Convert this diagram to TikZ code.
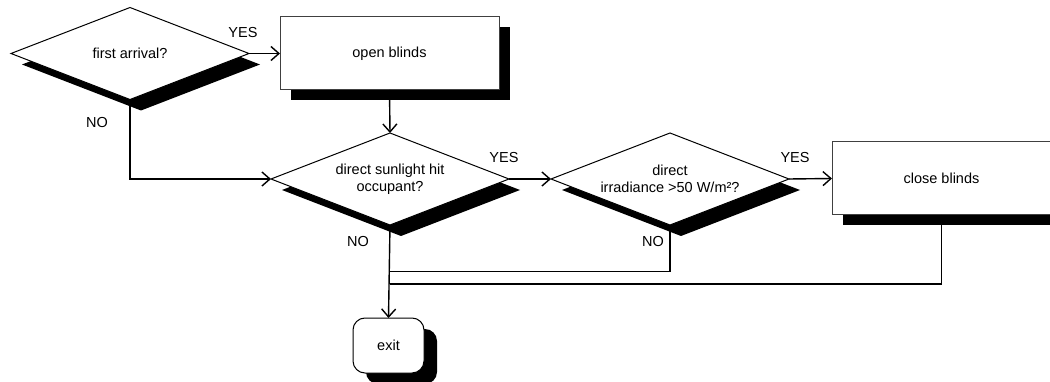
\documentclass[tikz,border=0pt]{standalone}
\usepackage{fontspec}
\setmainfont{Liberation Sans}
\usetikzlibrary{shapes.geometric,shadows,arrows.meta}

\tikzset{
  every node/.style={font=\fontsize{14.5}{17}\selectfont, inner sep=0pt, outer sep=0pt},
  blackshadow/.style={drop shadow={shadow xshift=11pt, shadow yshift=-11pt, fill=black, opacity=1}},
  decision/.style={diamond, draw=black, line width=1pt, fill=white, align=center,
    minimum width=238pt, minimum height=92pt, shape aspect=2.59, blackshadow},
  action/.style={rectangle, draw=black!75, line width=1pt, fill=white,
    minimum width=219pt, minimum height=73pt,
    drop shadow={shadow xshift=11pt, shadow yshift=-10pt, fill=black, opacity=1}},
  terminal/.style={rectangle, rounded corners=12pt, draw=black, line width=1pt, fill=white,
    minimum width=71pt, minimum height=55pt,
    drop shadow={shadow xshift=13pt, shadow yshift=-11pt, fill=black, opacity=1}},
  flow/.style={line width=1.4pt, draw=black},
  flowarrow/.style={flow, -{Straight Barb[length=8pt, width=14pt, line width=1.4pt]}},
  answer/.style={font=\fontsize{14.5}{17}\selectfont}
}

\begin{document}
\begin{tikzpicture}[x=1pt, y=-1pt]
  \useasboundingbox[fill=white] (0,0) rectangle (1050,382);

  % decisions and actions
  \node[decision] (arrival) at (130,53.5) {first arrival?};
  \node[action]   (open)    at (389.5,53.5) {open blinds};
  \node[decision] (sun)     at (390,179) {direct sunlight hit\\occupant?};
  \node[decision] (irr)     at (670,179) {direct\\irradiance >50 W/m²?};
  \node[action]   (close)   at (941.5,178.5) {close blinds};
  \node[terminal] (exit)    at (388.5,345.5) {exit};

  % junctions on the exit line
  \coordinate (j1) at (390,271.5);
  \coordinate (j2) at (390,284);

  % connectors
  \draw[flowarrow] (arrival.east) -- (open.west);
  \draw[flowarrow] (open.south) -- (sun.north);
  \draw[flowarrow] (arrival.south) |- (sun.west);
  \draw[flowarrow] (sun.east) -- (irr.west);
  \draw[flowarrow] (irr.east) -- (close.west);
  \draw[flowarrow] (sun.south) -- (exit.north);
  \draw[flow] (irr.south) |- (j1);
  \draw[flow] (close.south) |- (j2);

  % branch labels
  \node[answer] (y1) at (243,33) {YES};
  \node[answer] (n1) at (97,123) {NO};
  \node[answer] (y2) at (504,158) {YES};
  \node[answer] (n2) at (358,242) {NO};
  \node[answer] (y3) at (795,158) {YES};
  \node[answer] (n3) at (653,242) {NO};
\end{tikzpicture}
\end{document}
